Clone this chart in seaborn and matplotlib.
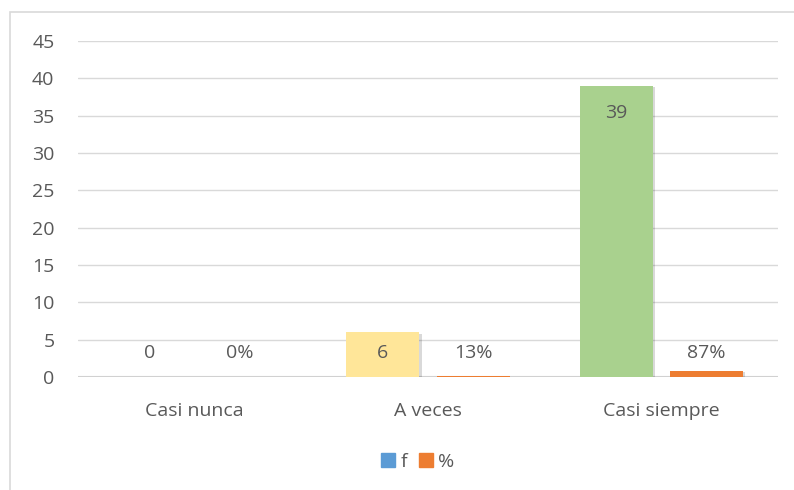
import matplotlib
matplotlib.use("Agg")
import matplotlib.pyplot as plt
import matplotlib.patches as mpatches
import matplotlib.patheffects as pe
import seaborn as sns
import pandas as pd

categories = ["Casi nunca", "A veces", "Casi siempre"]
f_values = [0, 6, 39]
pct_values = [0.0, 0.13, 0.87]
pct_labels = ["0%", "13%", "87%"]
series_names = ["f", "%"]
y_ticks = [0, 5, 10, 15, 20, 25, 30, 35, 40, 45]

f_bar_colors = ["#5B9BD5", "#FFE699", "#A9D18E"]
pct_color = "#ED7D31"
legend_colors = ["#5B9BD5", "#ED7D31"]
text_color = "#595959"
fs = 14

sns.set_theme(style="white")
plt.rcParams["font.family"] = ["Open Sans", "DejaVu Sans"]

df = pd.DataFrame({
    "cat": categories * 2,
    "serie": [series_names[0]] * len(categories) + [series_names[1]] * len(categories),
    "val": list(f_values) + list(pct_values),
})

fig = plt.figure(figsize=(7.94, 4.90), dpi=100)
ax = fig.add_axes([78 / 794, 113 / 490, 700 / 794, 336 / 490])

sns.barplot(data=df, x="cat", y="val", hue="serie", order=categories,
            hue_order=series_names, width=0.773, gap=0.19, ax=ax,
            palette=[legend_colors[0], pct_color], legend=False,
            edgecolor="none", linewidth=0, saturation=1)

n = len(categories)
patches = ax.patches[:2 * n]
for i, p in enumerate(patches[:n]):
    p.set_facecolor(f_bar_colors[i])
for p in patches[n:]:
    p.set_facecolor(pct_color)
for p in patches:
    p.set_path_effects([pe.SimplePatchShadow(offset=(1.5, -1), alpha=0.15, shadow_rgbFace="#000000"), pe.Normal()])

# data labels
for i, p in enumerate(patches[:n]):
    cx = p.get_x() + p.get_width() / 2
    v = f_values[i]
    ax.text(cx, max(v - 3.7, 3.2), str(v), ha="center", va="center",
            fontsize=fs, color=text_color)
for i, p in enumerate(patches[n:]):
    cx = p.get_x() + p.get_width() / 2
    ax.text(cx, 3.2, pct_labels[i], ha="center", va="center",
            fontsize=fs, color=text_color)

ax.set_ylim(0, 45)
ax.set_xlim(-0.5, n - 0.5)
ax.set_yticks(y_ticks)
ax.set_yticklabels([str(t) for t in y_ticks])
ax.yaxis.grid(True, color="#D9D9D9", linewidth=1)
ax.set_axisbelow(True)
ax.axhline(0, color="#D0D0D0", linewidth=1.5, zorder=0.5)
for s in ax.spines.values():
    s.set_visible(False)
ax.tick_params(axis="y", length=0, pad=17, labelsize=fs, labelcolor=text_color)
ax.tick_params(axis="x", length=0, pad=18, labelsize=fs, labelcolor=text_color)
ax.set_xlabel("")
ax.set_ylabel("")

handles = [mpatches.Patch(color=c, label=l) for c, l in zip(legend_colors, series_names)]
fig.legend(handles=handles, loc="center", bbox_to_anchor=(418 / 794, 1 - 462 / 490),
           ncol=2, frameon=False, fontsize=fs, labelcolor=text_color,
           handlelength=0.7, handleheight=0.7, handletextpad=0.3, columnspacing=0.6)

# chart-area border (top and left edges visible; right/bottom run off the image)
border = mpatches.Rectangle((10 / 794, -10 / 490), 800 / 794, 488 / 490,
                            transform=fig.transFigure, fill=False,
                            edgecolor="#D9D9D9", linewidth=1.2)
fig.patches.append(border)

fig.savefig("out.png", dpi=100)
